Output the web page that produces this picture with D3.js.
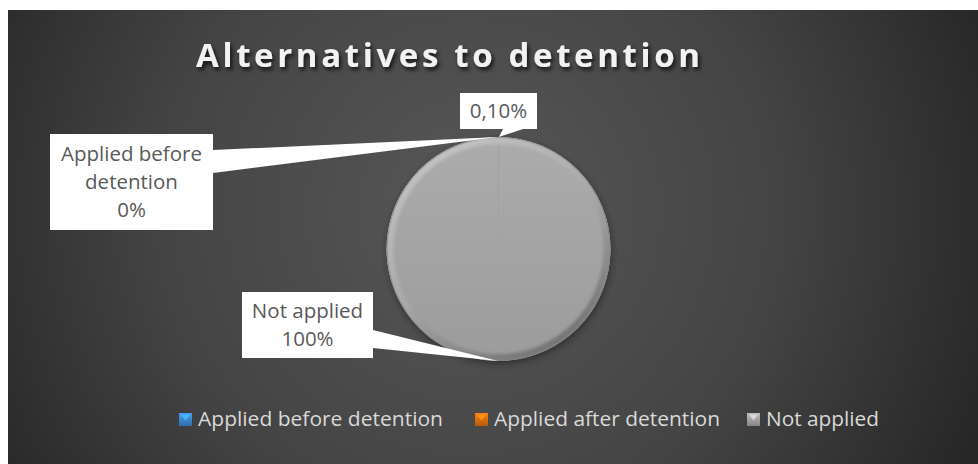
<!DOCTYPE html>
<html>
<head>
<meta charset="utf-8">
<script src="https://cdn.jsdelivr.net/npm/d3@7/dist/d3.min.js"></script>
<style>
  html, body { margin: 0; padding: 0; background: #ffffff; }
  svg { display: block; }
</style>
</head>
<body>
<svg id="chart" width="978" height="464"></svg>
<script>
// Chart data
const title = "Alternatives to detention";
const categories = ["Applied before detention", "Applied after detention", "Not applied"];
const values = [0, 0.10, 99.90];            // percent
const valueLabels = ["0%", "0,10%", "100%"];
const showCategoryInLabel = [true, false, true];
const colors = ["#3a8ad3", "#e2700f", "#a5a5a5"];

const W = 978, H = 464;
const svg = d3.select("#chart");
const defs = svg.append("defs");

// Background gradient
const bg = defs.append("radialGradient").attr("id", "bgGrad")
  .attr("gradientUnits", "userSpaceOnUse")
  .attr("cx", 470).attr("cy", 210).attr("r", 560);
bg.append("stop").attr("offset", "0%").attr("stop-color", "#575757");
bg.append("stop").attr("offset", "55%").attr("stop-color", "#444444");
bg.append("stop").attr("offset", "100%").attr("stop-color", "#262626");

svg.append("rect").attr("x", 8).attr("y", 10).attr("width", W - 8).attr("height", H - 10)
  .attr("fill", "url(#bgGrad)");

// Title with soft drop shadow
const tf = defs.append("filter").attr("id", "titleShadow").attr("x", "-10%").attr("y", "-30%").attr("width", "120%").attr("height", "160%");
tf.append("feDropShadow").attr("dx", 2).attr("dy", 3).attr("stdDeviation", 2).attr("flood-color", "#000").attr("flood-opacity", 0.75);

svg.append("text")
  .attr("x", 196).attr("y", 67)
  .attr("textLength", 504).attr("lengthAdjust", "spacing")
  .attr("font-family", "'Open Sans', sans-serif")
  .attr("font-weight", 700).attr("font-size", 33)
  .attr("fill", "#f2f2f2")
  .attr("filter", "url(#titleShadow)")
  .text(title);

// Pie geometry
const cx = 498.5, cy = 249, R = 112;
const pie = d3.pie().sort(null).value(d => d).startAngle(0).endAngle(2 * Math.PI);
const arcs = pie(values);
const arc = d3.arc().innerRadius(0).outerRadius(R);

// Pie fills
const pg = defs.append("linearGradient").attr("id", "pieGrad").attr("x1", 0).attr("y1", 0).attr("x2", 0).attr("y2", 1);
pg.append("stop").attr("offset", "0%").attr("stop-color", "#ababab");
pg.append("stop").attr("offset", "100%").attr("stop-color", "#9b9b9b");

const rim = defs.append("linearGradient").attr("id", "rimGrad").attr("x1", 0.2).attr("y1", 0).attr("x2", 0.8).attr("y2", 1);
rim.append("stop").attr("offset", "0%").attr("stop-color", "#c4c4c4");
rim.append("stop").attr("offset", "50%").attr("stop-color", "#a8a8a8");
rim.append("stop").attr("offset", "100%").attr("stop-color", "#6e6e6e");

const blur = defs.append("filter").attr("id", "soft").attr("x", "-10%").attr("y", "-10%").attr("width", "120%").attr("height", "120%");
blur.append("feGaussianBlur").attr("stdDeviation", 1.6);

const shadowF = defs.append("filter").attr("id", "pieShadow").attr("x", "-20%").attr("y", "-20%").attr("width", "140%").attr("height", "140%");
shadowF.append("feGaussianBlur").attr("stdDeviation", 3);

const pieG = svg.append("g").attr("transform", `translate(${cx},${cy})`);

pieG.append("circle").attr("cx", 1).attr("cy", 3).attr("r", R)
  .attr("fill", "#1e1e1e").attr("opacity", 0.6).attr("filter", "url(#pieShadow)");

pieG.selectAll("path.slice").data(arcs).join("path")
  .attr("class", "slice")
  .attr("d", arc)
  .attr("fill", (d, i) => i === 2 ? "url(#pieGrad)" : colors[i]);

// Glossy material over the slices
const sheen = defs.append("linearGradient").attr("id", "sheenGrad").attr("x1", 0).attr("y1", 0).attr("x2", 0).attr("y2", 1);
sheen.append("stop").attr("offset", "0%").attr("stop-color", "#acacac");
sheen.append("stop").attr("offset", "100%").attr("stop-color", "#9c9c9c");
pieG.append("circle").attr("r", R).attr("fill", "url(#sheenGrad)").attr("opacity", 0.8);

// Bevel rim
const clip = defs.append("clipPath").attr("id", "pieClip");
clip.append("circle").attr("cx", cx).attr("cy", cy).attr("r", R);
const rimG = svg.append("g").attr("clip-path", "url(#pieClip)");
rimG.append("circle").attr("cx", cx).attr("cy", cy).attr("r", R - 3.5)
  .attr("fill", "none").attr("stroke", "url(#rimGrad)").attr("stroke-width", 7)
  .attr("filter", "url(#soft)");
rimG.append("circle").attr("cx", cx).attr("cy", cy).attr("r", R - 0.5)
  .attr("fill", "none").attr("stroke", "#7a7a7a").attr("stroke-width", 1).attr("opacity", 0.6);

// Data label callouts (box position, and the base of each pointer)
const labelBoxes = [
  { x: 50,  y: 134, w: 163, h: 96, base: [[213, 150], [213, 173]] },
  { x: 460, y: 93,  w: 77,  h: 36, base: [[503, 129], [523, 129]] },
  { x: 242, y: 292, w: 131, h: 66, base: [[373, 330], [373, 348]] }
];

const labelFont = "'Open Sans', sans-serif";
const calloutG = svg.append("g");

arcs.forEach((a, i) => {
  const b = labelBoxes[i];
  const mid = (a.startAngle + a.endAngle) / 2;
  const tip = [cx + R * Math.sin(mid), cy - R * Math.cos(mid)];
  calloutG.append("path")
    .attr("d", d3.line()([b.base[0], tip, b.base[1]]) + "Z")
    .attr("fill", "#ffffff");
});

arcs.forEach((a, i) => {
  const b = labelBoxes[i];
  const g = calloutG.append("g");
  g.append("rect").attr("x", b.x).attr("y", b.y).attr("width", b.w).attr("height", b.h).attr("fill", "#ffffff");
  const lines = [];
  if (showCategoryInLabel[i]) {
    if (i === 0) { lines.push("Applied before", "detention"); }
    else lines.push(categories[i]);
  }
  lines.push(valueLabels[i]);
  const lh = 28;
  const y0 = b.y + b.h / 2 - (lines.length - 1) * lh / 2 + 7;
  lines.forEach((t, k) => {
    g.append("text")
      .attr("x", b.x + b.w / 2).attr("y", y0 + k * lh)
      .attr("text-anchor", "middle")
      .attr("font-family", labelFont).attr("font-size", 20.5)
      .attr("fill", "#595959")
      .text(t);
  });
});

// Legend
const legendItems = [
  { x: 179, tx: 198, tw: 245 },
  { x: 475, tx: 494, tw: 226 },
  { x: 747, tx: 766, tw: 113 }
];
const legG = svg.append("g");
categories.forEach((c, i) => {
  const li = legendItems[i];
  const grad = defs.append("linearGradient").attr("id", "lg" + i).attr("x1", 0).attr("y1", 0).attr("x2", 0).attr("y2", 1);
  const base = d3.color(colors[i]);
  grad.append("stop").attr("offset", "0%").attr("stop-color", base.brighter(0.4));
  grad.append("stop").attr("offset", "100%").attr("stop-color", base.darker(0.6));
  legG.append("rect").attr("x", li.x).attr("y", 413).attr("width", 13).attr("height", 13)
    .attr("fill", "url(#lg" + i + ")");
  legG.append("path")
    .attr("d", `M${li.x + 2},${414.5} L${li.x + 11},${414.5} L${li.x + 6.5},${420.5}Z`)
    .attr("fill", base.brighter(0.9)).attr("opacity", 0.8);
  legG.append("text")
    .attr("x", li.tx).attr("y", 426)
    .attr("textLength", li.tw).attr("lengthAdjust", "spacingAndGlyphs")
    .attr("font-family", labelFont).attr("font-size", 19.5)
    .attr("fill", "#d9d9d9")
    .text(c);
});
</script>
</body>
</html>
